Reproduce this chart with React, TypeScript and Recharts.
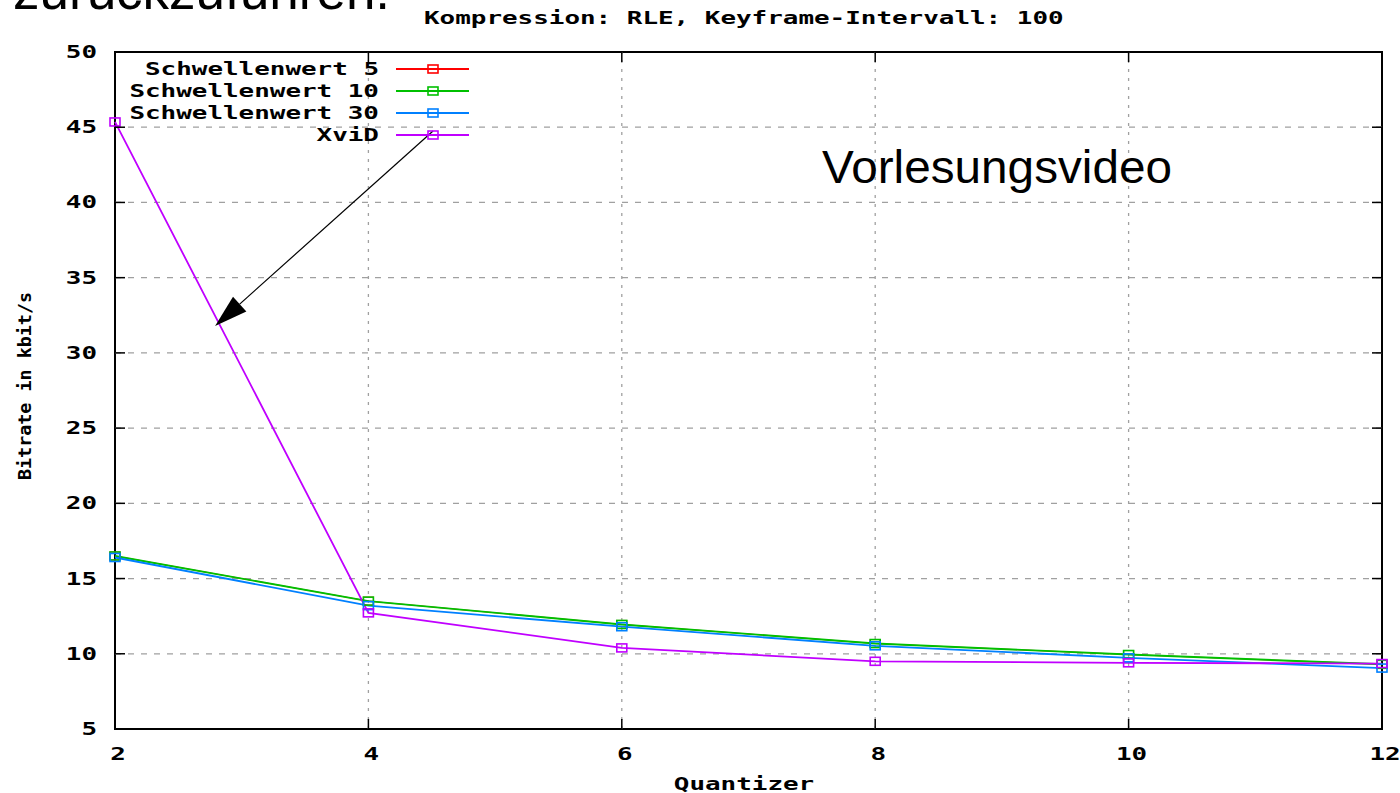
import React from 'react';
import { LineChart, Line, XAxis, YAxis, ReferenceLine, ReferenceArea, Legend } from 'recharts';

const quantizer = [2, 4, 6, 8, 10, 12];
const schwellenwert5 = [16.5, 13.5, 11.95, 10.68, 9.95, 9.3];
const schwellenwert10 = [16.5, 13.5, 11.95, 10.68, 9.95, 9.3];
const schwellenwert30 = [16.4, 13.2, 11.8, 10.53, 9.73, 9.05];
const xvid = [45.35, 12.72, 10.39, 9.5, 9.4, 9.35];

const xTicks = [2, 4, 6, 8, 10, 12];
const yTicks = [5, 10, 15, 20, 25, 30, 35, 40, 45, 50];
const xGrid = [4, 6, 8, 10];
const yGrid = [10, 15, 20, 25, 30, 35, 40, 45];

const seriesKeys = ['s5', 's10', 's30', 'xvid'];
const seriesNames = ['Schwellenwert 5', 'Schwellenwert 10', 'Schwellenwert 30', 'XviD'];
const seriesColors = ['#ff0000', '#00c000', '#0080ff', '#c000ff'];
const seriesWidths = [1.0, 1.9, 1.8, 1.8];

const arrowStart = { x: 4.51, y: 44.75 };
const arrowEnd = { x: 2.79, y: 31.78 };

const titleText = 'Kompression: RLE, Keyframe-Intervall: 100';
const xLabel = 'Quantizer';
const yLabel = 'Bitrate in kbit/s';
const slideText = 'zurückzuführen.';
const noteText = 'Vorlesungsvideo';

const data = quantizer.map((q, i) => ({
  q,
  s5: schwellenwert5[i],
  s10: schwellenwert10[i],
  s30: schwellenwert30[i],
  xvid: xvid[i],
}));

const MONO = '"DejaVu Sans Mono", monospace';
const CHAR_W = 15.6;
const PLOT_W = 1267;
const PLOT_H = 677;

const YTick = (props: any) => {
  const { x, y, payload } = props;
  const s = String(payload.value);
  const w = s.length * CHAR_W;
  return (
    <g>
      <line x1={x} x2={x + 10} y1={y} y2={y} stroke="#000" strokeWidth={1.5} />
      <line x1={x + PLOT_W - 10} x2={x + PLOT_W} y1={y} y2={y} stroke="#000" strokeWidth={1.5} />
      <text x={x - 18 - w} y={y + 6} textLength={w} lengthAdjust="spacingAndGlyphs"
        fontFamily={MONO} fontWeight="bold" fontSize={17} fill="#000">{s}</text>
    </g>
  );
};

const XTick = (props: any) => {
  const { x, y, payload } = props;
  const s = String(payload.value);
  const w = s.length * CHAR_W;
  return (
    <g>
      <line x1={x} x2={x} y1={y} y2={y - 10} stroke="#000" strokeWidth={1.5} />
      <line x1={x} x2={x} y1={y - PLOT_H} y2={y - PLOT_H + 10} stroke="#000" strokeWidth={1.5} />
      <text x={x + 3 - w / 2} y={y + 31} textLength={w} lengthAdjust="spacingAndGlyphs"
        fontFamily={MONO} fontWeight="bold" fontSize={17} fill="#000">{s}</text>
    </g>
  );
};

const makeDot = (color: string, sw: number) => (props: any) => {
  const { cx, cy, index } = props;
  if (cx == null || cy == null) return <g key={index} />;
  return (
    <rect key={index} x={cx - 5} y={cy - 4} width={10} height={8} fill="none" stroke={color} strokeWidth={sw} />
  );
};

const ArrowShape = (props: any) => {
  const { x1, y1, x2, y2 } = props;
  const dx = x2 - x1;
  const dy = y2 - y1;
  const len = Math.sqrt(dx * dx + dy * dy) || 1;
  const ux = dx / len;
  const uy = dy / len;
  const headLen = 33;
  const halfW = 10;
  const bx = x2 - ux * headLen;
  const by = y2 - uy * headLen;
  const px = -uy;
  const py = ux;
  return (
    <g>
      <line x1={x1} y1={y1} x2={bx} y2={by} stroke="#000" strokeWidth={1.2} />
      <polygon points={`${x2},${y2} ${bx + px * halfW},${by + py * halfW} ${bx - px * halfW},${by - py * halfW}`} fill="#000" />
    </g>
  );
};

const LegendContent = () => (
  <svg width={480} height={150} style={{ display: 'block' }}>
    {seriesNames.map((name, i) => {
      const cy = 69 + i * 22;
      const w = name.length * CHAR_W;
      return (
        <g key={name}>
          <text x={379 - w} y={cy + 6} textLength={w} lengthAdjust="spacingAndGlyphs"
            fontFamily={MONO} fontWeight="bold" fontSize={17} fill="#000">{name}</text>
          <line x1={396} x2={469} y1={cy} y2={cy} stroke={seriesColors[i]} strokeWidth={1.8} />
          <rect x={428} y={cy - 4} width={10} height={8} fill="none" stroke={seriesColors[i]} strokeWidth={1.6} />
        </g>
      );
    })}
  </svg>
);

export default function App() {
  return (
    <div style={{ position: 'absolute', left: 0, top: 0, width: 1400, height: 793, overflow: 'hidden', background: '#fff' }}>
      <LineChart width={1400} height={793} data={data} margin={{ top: 52, right: 18, bottom: 24, left: 0 }}>
        {yGrid.map((v) => (
          <ReferenceLine key={'yg' + v} y={v} stroke="#a0a0a0" strokeWidth={1.3} strokeDasharray="6 7" />
        ))}
        {xGrid.map((v) => (
          <ReferenceLine key={'xg' + v} x={v} stroke="#a0a0a0" strokeWidth={1.3} strokeDasharray="3 6" />
        ))}
        <ReferenceArea x1={2} x2={12} y1={5} y2={50} fill="none" stroke="#000" strokeWidth={2} />
        <XAxis dataKey="q" type="number" domain={[2, 12]} ticks={xTicks} height={40}
          axisLine={false} tickLine={false} tickSize={0} tickMargin={0} tick={<XTick />} interval={0} />
        <YAxis type="number" domain={[5, 50]} ticks={yTicks} width={115}
          axisLine={false} tickLine={false} tickSize={0} tickMargin={0} tick={<YTick />} interval={0} />
        <Legend layout="vertical" align="center" verticalAlign="middle"
          wrapperStyle={{ position: 'absolute', left: 0, top: 0, width: 480, height: 150 }}
          content={() => <LegendContent />} />
        {seriesKeys.map((k, i) => (
          <Line key={k} type="linear" dataKey={k} name={seriesNames[i]} stroke={seriesColors[i]}
            strokeWidth={seriesWidths[i]} dot={makeDot(seriesColors[i], i === 0 ? 1.0 : 1.6)} activeDot={false} isAnimationActive={false} />
        ))}
        <ReferenceLine segment={[arrowStart, arrowEnd]} shape={<ArrowShape />} ifOverflow="visible" />
      </LineChart>
      <svg width={1400} height={793} style={{ position: 'absolute', left: 0, top: 0, pointerEvents: 'none' }}>
        <text x={13} y={9} fontFamily='"Liberation Sans", Arial, sans-serif' fontSize={53} fill="#000">{slideText}</text>
        <text x={424} y={24} textLength={titleText.length * CHAR_W} lengthAdjust="spacingAndGlyphs"
          fontFamily={MONO} fontWeight="bold" fontSize={17} fill="#000">{titleText}</text>
        <text x={822} y={183} textLength={350} lengthAdjust="spacingAndGlyphs"
          fontFamily='"Liberation Sans", Arial, sans-serif' fontSize={47} fill="#000">{noteText}</text>
        <text x={744 - (xLabel.length * CHAR_W) / 2} y={790} textLength={xLabel.length * CHAR_W} lengthAdjust="spacingAndGlyphs"
          fontFamily={MONO} fontWeight="bold" fontSize={17} fill="#000">{xLabel}</text>
        <text transform="translate(31,386) rotate(-90)" x={-94} y={0} textLength={188} lengthAdjust="spacingAndGlyphs"
          fontFamily={MONO} fontWeight="bold" fontSize={18} fill="#000">{yLabel}</text>
      </svg>
    </div>
  );
}
